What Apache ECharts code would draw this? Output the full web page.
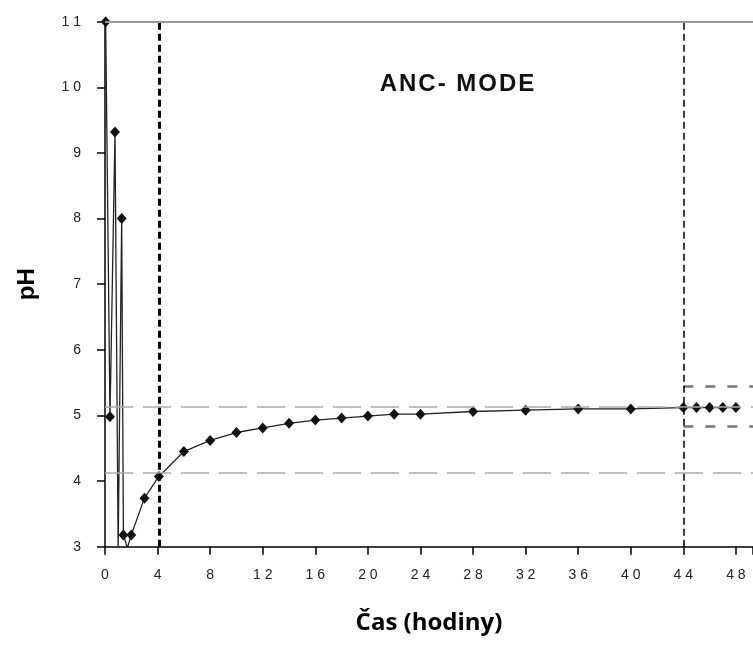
<!DOCTYPE html>
<html>
<head>
<meta charset="utf-8">
<script src="https://cdn.jsdelivr.net/npm/echarts@6/dist/echarts.min.js"></script>
<style>
  html, body { margin: 0; padding: 0; background: #fff; }
  #chart { width: 753px; height: 647px; }
</style>
</head>
<body>
<div id="chart"></div>
<script>
// measured pH over time (hours)
var timeH = [0.05, 0.38, 0.76, 1.0, 1.27, 1.4, 1.7, 2.0, 3, 4.1, 6, 8, 10, 12, 14, 16, 18, 20, 22, 24, 28, 32, 36, 40, 44, 45, 46, 47, 48]
var phVal = [11, 4.98, 9.32, 2.95, 8.0, 3.18, 2.98, 3.18, 3.74, 4.07, 4.45, 4.62, 4.74, 4.81, 4.88, 4.93, 4.96, 4.99, 5.02, 5.02, 5.06, 5.08, 5.10, 5.10, 5.12, 5.12, 5.12, 5.12, 5.12]
// points of the polyline that carry no marker
var noMarker = [3, 6]

var limitLines = [4.12, 5.14]     // horizontal long dashes
var bandLines = [4.83, 5.45]      // short dashes after the mode switch
var modeStart = 4.15              // thick dotted vertical
var modeEnd = 44                  // thin dashed vertical
var xMax = 49.3

function spaced (v) {
  return String(v).split('').join(' ')
}

var chart = echarts.init(document.getElementById('chart'))

var data = timeH.map(function (t, i) {
  var p = { value: [t, phVal[i]] }
  if (noMarker.indexOf(i) >= 0) p.symbol = 'none'
  return p
})

var markData = []
limitLines.forEach(function (y) {
  markData.push([{ coord: [0, y], lineStyle: { color: '#aaa', width: 1.5, type: [28, 10] } }, { coord: [xMax, y] }])
})
bandLines.forEach(function (y) {
  markData.push([{ coord: [modeEnd, y], lineStyle: { color: '#777', width: 2.5, type: [10, 12] } }, { coord: [xMax, y] }])
})
markData.push([{ coord: [modeStart, 3], lineStyle: { color: '#000', width: 3, type: [7, 4] } }, { coord: [modeStart, 11] }])
markData.push([{ coord: [modeEnd, 3], lineStyle: { color: '#000', width: 1.5, type: [7, 4] } }, { coord: [modeEnd, 11] }])
markData.push([{ coord: [0, 11], lineStyle: { color: '#999', width: 2, type: 'solid' } }, { coord: [xMax, 11] }])

var option = {
  animation: false,
  grid: {
    left: 105,
    right: 0,
    top: 21.7,
    bottom: 100.3,
    outerBoundsMode: 'none'
  },
  xAxis: {
    type: 'value',
    min: 0,
    max: xMax,
    interval: 4,
    name: 'Čas (hodiny)',
    nameLocation: 'middle',
    nameGap: 64,
    nameTextStyle: { fontFamily: 'Open Sans', fontWeight: 'bold', fontSize: 24, color: '#000' },
    axisLine: { lineStyle: { color: '#000', width: 1.5 } },
    axisTick: { length: 8, lineStyle: { color: '#000', width: 1.5 } },
    axisLabel: {
      margin: 21,
      fontFamily: 'Liberation Sans',
      fontSize: 14,
      color: '#222',
      formatter: function (v) { return v % 4 === 0 ? spaced(v) : '' }
    },
    splitLine: { show: false }
  },
  yAxis: {
    type: 'value',
    min: 3,
    max: 11,
    interval: 1,
    name: 'pH',
    nameLocation: 'middle',
    nameGap: 66,
    nameTextStyle: { fontFamily: 'Liberation Sans', fontWeight: 'bold', fontSize: 24, color: '#000' },
    axisLine: { show: true, lineStyle: { color: '#000', width: 1.5 } },
    axisTick: { show: true, length: 8, lineStyle: { color: '#000', width: 1.5 } },
    axisLabel: {
      margin: 24,
      fontFamily: 'Liberation Sans',
      fontSize: 14,
      color: '#222',
      formatter: function (v) { return spaced(v) }
    },
    splitLine: { show: false }
  },
  graphic: [{
    type: 'text',
    x: 457,
    y: 84,
    style: {
      text: 'A\u200aN\u200aC\u200a-\u200a \u200aM\u200aO\u200aD\u200aE',
      fontFamily: 'Liberation Sans',
      fontWeight: 'bold',
      fontSize: 24,
      fill: '#111',
      textAlign: 'center',
      textVerticalAlign: 'middle'
    }
  }],
  series: [{
    type: 'line',
    data: data,
    clip: true,
    symbol: 'diamond',
    symbolSize: [10, 11],
    showAllSymbol: true,
    itemStyle: { color: '#111' },
    lineStyle: { color: '#222', width: 1.3 },
    markLine: {
      silent: true,
      symbol: 'none',
      label: { show: false },
      data: markData
    },
    z: 3
  }]
}

chart.setOption(option)
</script>
</body>
</html>
